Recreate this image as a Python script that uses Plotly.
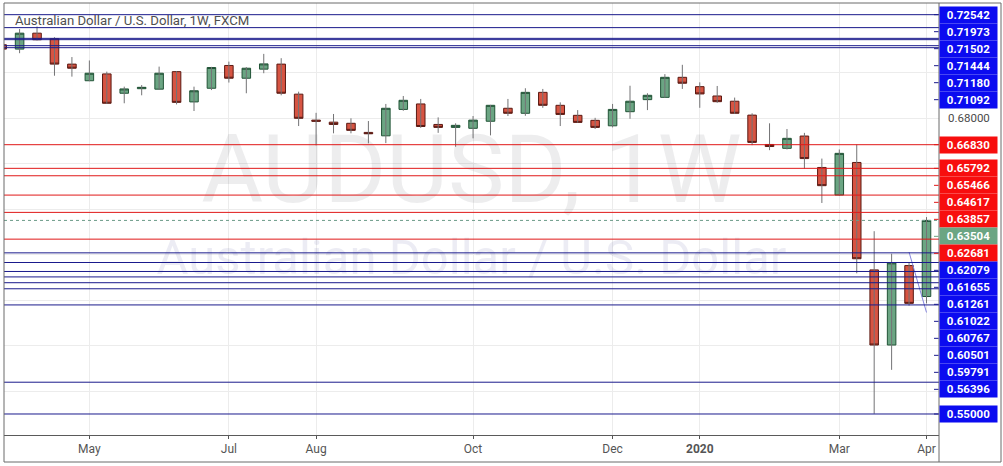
import plotly.graph_objects as go
import pandas as pd

# ---------------- data ----------------
dates = pd.date_range("2019-04-01", periods=54, freq="7D")
opens = [0.7122, 0.7103, 0.7173, 0.7148, 0.7037, 0.6964, 0.6994, 0.6909, 0.6929, 0.6927,
         0.7004, 0.6871, 0.6931, 0.7031, 0.6975, 0.7015, 0.7037, 0.6905, 0.6791, 0.6782,
         0.6777, 0.6737, 0.6722, 0.6838, 0.6862, 0.6772, 0.6759, 0.6755, 0.6786, 0.6843,
         0.6821, 0.6913, 0.6856, 0.6812, 0.6790, 0.6766, 0.6828, 0.6881, 0.6891, 0.6979,
         0.6938, 0.6897, 0.6874, 0.6813, 0.6684, 0.6667, 0.6721, 0.6583, 0.6462, 0.6605,
         0.6133, 0.5803, 0.6152, 0.6016]
highs = [0.7135, 0.7191, 0.7202, 0.7155, 0.7068, 0.7053, 0.7004, 0.6938, 0.6945, 0.7026,
         0.7006, 0.6938, 0.7025, 0.7048, 0.7024, 0.7082, 0.7063, 0.6916, 0.6823, 0.6818,
         0.6799, 0.6787, 0.6862, 0.6897, 0.6884, 0.6803, 0.6777, 0.6809, 0.6858, 0.6884,
         0.6931, 0.6928, 0.6869, 0.6835, 0.6801, 0.6862, 0.6942, 0.6909, 0.6993, 0.7034,
         0.6957, 0.6941, 0.6890, 0.6821, 0.6777, 0.6752, 0.6735, 0.6622, 0.6662, 0.6684,
         0.6303, 0.6204, 0.6167, 0.6365]
lows = [0.7095, 0.7085, 0.7141, 0.6986, 0.6982, 0.6962, 0.6862, 0.6865, 0.6900, 0.6925,
        0.6860, 0.6831, 0.6923, 0.6956, 0.6909, 0.6997, 0.6900, 0.6765, 0.6680, 0.6733,
        0.6733, 0.6689, 0.6690, 0.6832, 0.6757, 0.6735, 0.6674, 0.6711, 0.6724, 0.6809,
        0.6810, 0.6845, 0.6765, 0.6780, 0.6752, 0.6759, 0.6797, 0.6835, 0.6889, 0.6928,
        0.6845, 0.6867, 0.6818, 0.6681, 0.6659, 0.6662, 0.6578, 0.6427, 0.6458, 0.6118,
        0.5501, 0.5694, 0.5976, 0.5986]
closes = [0.7103, 0.7173, 0.7144, 0.7037, 0.7019, 0.6997, 0.6865, 0.6928, 0.6935, 0.6997,
          0.6869, 0.6920, 0.7022, 0.6975, 0.7019, 0.7038, 0.6909, 0.6799, 0.6786, 0.6772,
          0.6746, 0.6731, 0.6843, 0.6878, 0.6763, 0.6759, 0.6768, 0.6791, 0.6856, 0.6821,
          0.6913, 0.6856, 0.6816, 0.6781, 0.6759, 0.6838, 0.6874, 0.6900, 0.6979, 0.6953,
          0.6906, 0.6872, 0.6821, 0.6693, 0.6675, 0.6711, 0.6622, 0.6503, 0.6645, 0.6182,
          0.5803, 0.6164, 0.5986, 0.63504]

blue_levels = [0.72542, 0.71973, 0.71502, 0.71444, 0.71180, 0.71092, 0.62079, 0.61655,
               0.61261, 0.61022, 0.60767, 0.60501, 0.59791, 0.56396, 0.55000]
red_levels = [0.66830, 0.65792, 0.65466, 0.64617, 0.63857, 0.62681]

tick_dates = ["2019-05-06", "2019-07-01", "2019-08-05", "2019-10-07",
              "2019-12-02", "2020-01-06", "2020-03-02", "2020-04-06"]
tick_text = ["May", "Jul", "Aug", "Oct", "Dec", "<b>2020</b>", "Mar", "Apr"]
scale_labels = [0.68]

trend_dates = ["2020-03-30", "2020-04-06"]
trend_prices = [0.6211, 0.5946]

title_text = "Australian Dollar / U.S. Dollar, 1W, FXCM"
wm_big = "AUDUSD, 1W"
wm_small = "Australian Dollar / U.S. Dollar"

# ---------------- layout constants ----------------
W, H = 1003, 466
ML, MR, MT, MB = 4, 64, 3, 31
PW, PH = W - ML - MR, H - MT - MB
Y0, Y1 = 0.54077, 0.73055
px_per_day = 2.4915
last = dates[-1]
x_lo = last - pd.Timedelta(days=(926.5 - ML) / px_per_day)
x_hi = last + pd.Timedelta(days=(ML + PW - 926.5) / px_per_day)

BLUE_LINE = "#1a1a8c"
BLUE_LBL = "#0b0bf0"
RED_LINE = "#e01818"
RED_LBL = "#f70e0e"
UP_FILL, UP_LINE = "#6ba583", "#225437"
DN_FILL, DN_LINE = "#d75442", "#5b1a13"
WICK = "#737375"
FONT = "Roboto"


def py_to_price(ypx):
    return Y1 - (ypx - MT) / PH * (Y1 - Y0)


def price_to_py(p):
    return MT + (Y1 - p) / (Y1 - Y0) * PH


fig = go.Figure()

# watermark (below candles)
mid_x = x_lo + (x_hi - x_lo) / 2
fig.add_trace(go.Scatter(x=[mid_x], y=[py_to_price(178)], mode="text", text=[wm_big],
                         textfont=dict(family=FONT, size=95, color="rgba(60,60,70,0.09)"),
                         hoverinfo="skip", showlegend=False))
fig.add_trace(go.Scatter(x=[mid_x], y=[py_to_price(262)], mode="text", text=[wm_small],
                         textfont=dict(family=FONT, size=49, color="rgba(70,70,150,0.10)"),
                         hoverinfo="skip", showlegend=False))

# wicks
wx, wy = [], []
for d, h, l in zip(dates, highs, lows):
    wx += [d, d, None]
    wy += [h, l, None]
fig.add_trace(go.Scatter(x=wx, y=wy, mode="lines", line=dict(color=WICK, width=1),
                         hoverinfo="skip", showlegend=False))

# candle bodies
body_hi = [max(o, c) for o, c in zip(opens, closes)]
body_lo = [min(o, c) for o, c in zip(opens, closes)]
fig.add_trace(go.Candlestick(
    x=dates, open=opens, high=body_hi, low=body_lo, close=closes,
    increasing=dict(fillcolor=UP_FILL, line=dict(color=UP_LINE, width=1)),
    decreasing=dict(fillcolor=DN_FILL, line=dict(color=DN_LINE, width=1)),
    whiskerwidth=0, showlegend=False))

# trendline
fig.add_trace(go.Scatter(x=trend_dates, y=trend_prices, mode="lines",
                         line=dict(color="#8585dc", width=1), hoverinfo="skip", showlegend=False))

shapes = []
for lv in blue_levels:
    shapes.append(dict(type="line", xref="paper", x0=0, x1=1, yref="y", y0=lv, y1=lv,
                       line=dict(color=BLUE_LINE, width=1), layer="above"))
for lv in red_levels:
    shapes.append(dict(type="line", xref="paper", x0=0, x1=1, yref="y", y0=lv, y1=lv,
                       line=dict(color=RED_LINE, width=1), layer="above"))
shapes.append(dict(type="line", xref="paper", x0=0, x1=1, yref="y", y0=closes[-1], y1=closes[-1],
                   line=dict(color="#6b9a88", width=1, dash="dot"), layer="above"))

# frame & price scale separator
by = -(462 - (H - MB)) / PH
shapes.append(dict(type="rect", xref="paper", yref="paper", x0=0, x1=(1001 - ML) / PW, y0=by, y1=1,
                   line=dict(color="#6a6a6a", width=1), fillcolor="rgba(0,0,0,0)", layer="above"))
shapes.append(dict(type="line", xref="paper", yref="paper", x0=1, x1=1, y0=by, y1=1,
                   line=dict(color="#6a6a6a", width=1), layer="above"))

annotations = [dict(text=title_text, xref="paper", yref="paper", x=(13 - ML) / PW,
                    y=(H - MB - 20) / PH, xanchor="left", yanchor="middle", showarrow=False,
                    font=dict(family=FONT, size=13.2, color="#4f4f4f"))]

lbl_x = (968.5 - ML) / PW
for v in scale_labels:
    annotations.append(dict(text=f"{v:.5f}", xref="paper", yref="y", x=lbl_x, y=v,
                            xanchor="center", yanchor="middle", showarrow=False,
                            font=dict(family=FONT, size=11.5, color="#4a4a4a")))

# price labels, stacked downward so they do not overlap
labels = [(lv, BLUE_LBL, BLUE_LINE) for lv in blue_levels] + \
         [(lv, RED_LBL, RED_LINE) for lv in red_levels] + \
         [(closes[-1], UP_FILL, UP_FILL)]
labels.sort(key=lambda t: -t[0])
prev = -1e9
for lv, bg, lc in labels:
    ypx = max(price_to_py(lv), prev + 17)
    prev = ypx
    yv = py_to_price(ypx)
    annotations.append(dict(text=f"<b>{lv:.5f}</b>", xref="paper", yref="y", x=lbl_x, y=yv,
                            xanchor="center", yanchor="middle", showarrow=False,
                            width=55, height=14, borderpad=1, bgcolor=bg,
                            font=dict(family=FONT, size=11.5, color="white")))
    shapes.append(dict(type="line", xref="paper", yref="y", x0=(934 - ML) / PW, x1=(938.5 - ML) / PW,
                       y0=yv, y1=yv, line=dict(color=lc, width=1), layer="above"))

fig.update_layout(
    width=W, height=H, margin=dict(l=ML, r=MR, t=MT, b=MB),
    paper_bgcolor="white", plot_bgcolor="white", showlegend=False,
    shapes=shapes, annotations=annotations,
    xaxis=dict(type="date", range=[x_lo, x_hi], tickvals=tick_dates, ticktext=tick_text,
               showgrid=True, gridcolor="#ececec", gridwidth=1, ticks="outside", ticklen=3,
               tickcolor="#555", showline=True, linecolor="#5a5a5a", linewidth=1,
               tickfont=dict(family=FONT, size=12, color="#555"), rangeslider=dict(visible=False),
               fixedrange=True, zeroline=False),
    yaxis=dict(range=[Y0, Y1], dtick=0.02, tick0=0, showgrid=True, gridcolor="#ececec",
               showticklabels=False, zeroline=False, fixedrange=True, side="right"),
)

fig.write_html("out.html", config={"displayModeBar": False},
               post_script="document.body.style.margin='0px';")
